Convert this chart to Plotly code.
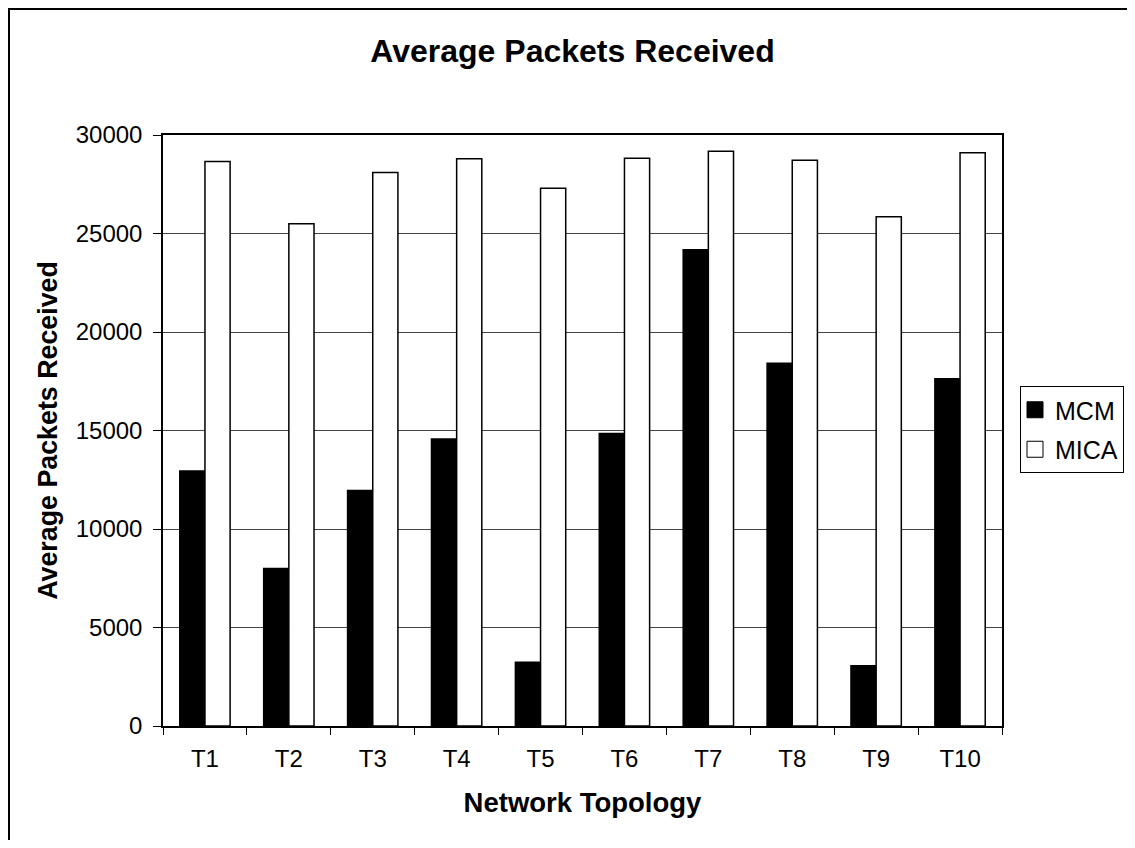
import plotly.graph_objects as go

categories = ["T1", "T2", "T3", "T4", "T5", "T6", "T7", "T8", "T9", "T10"]
mcm_values = [12950, 8000, 11950, 14570, 3230, 14850, 24180, 18420, 3060, 17630]
mica_values = [28650, 25500, 28100, 28800, 27300, 28820, 29180, 28720, 25850, 29100]
y_ticks = [0, 5000, 10000, 15000, 20000, 25000, 30000]

# the page body has an 8px margin on every side; figure coordinates = page coordinates - 8
OFF = 8
W, H = 1135 - 2 * OFF, 848 - 2 * OFF
L, T = 163 - OFF, 135 - OFF
PLOT_RIGHT, PLOT_BOTTOM = 1002 - OFF, 726 - OFF
R, B = W - PLOT_RIGHT, H - PLOT_BOTTOM
PW, PH = W - L - R, H - T - B

def px_x(x):
    return (x - L) / PW

def px_y(y):
    return (H - B - y) / PH

FONT = "Arial, Liberation Sans, sans-serif"

fig = go.Figure()
fig.add_trace(go.Bar(
    name="MCM", x=categories, y=mcm_values, showlegend=False,
    marker=dict(color="black", line=dict(color="black", width=1.5)),
))
fig.add_trace(go.Bar(
    name="MICA", x=categories, y=mica_values, showlegend=False,
    marker=dict(color="white", line=dict(color="black", width=1.5)),
))
# legend entries (square swatches like the original legend)
fig.add_trace(go.Scatter(
    name="MCM", x=[None], y=[None], mode="markers", legendgroup="a",
    marker=dict(symbol="square", size=19, color="black", line=dict(color="black", width=1)),
))
fig.add_trace(go.Scatter(
    name="MICA", x=[None], y=[None], mode="markers", legendgroup="b",
    marker=dict(symbol="square", size=19, color="white", line=dict(color="black", width=1)),
))

fig.update_layout(
    width=W, height=H,
    margin=dict(l=L, r=R, t=T, b=B, autoexpand=False),
    paper_bgcolor="white", plot_bgcolor="white",
    font=dict(family=FONT, size=24, color="black"),
    barmode="group", bargap=0.40, bargroupgap=0.0,
    title=dict(text="<b>Average Packets Received</b>", font=dict(size=32, family=FONT, color="black"),
               x=(572.5 - OFF) / W, xanchor="center", xref="container",
               y=1 - (51 - OFF) / H, yanchor="middle", yref="container"),
    legend=dict(
        x=px_x(1020 - OFF), xanchor="left", y=px_y(386 - OFF), yanchor="top",
        bordercolor="black", borderwidth=1, bgcolor="white",
        font=dict(size=25, family=FONT, color="black"),
        tracegroupgap=4, traceorder="grouped", itemsizing="trace",
        indentation=-6,
    ),
    xaxis=dict(
        title=dict(text="<b>Network Topology</b>", font=dict(size=27.5, family=FONT), standoff=22),
        showline=True, linecolor="black", linewidth=1.5, mirror=True,
        ticks="outside", tickson="boundaries", ticklen=7, tickcolor="black",
        ticklabelstandoff=10,
        showgrid=False,
    ),
    yaxis=dict(
        title=dict(text="<b>Average Packets Received</b>", font=dict(size=26.8, family=FONT), standoff=10),
        range=[0, 30000], tickvals=y_ticks, ticktext=[str(v) for v in y_ticks],
        showline=True, linecolor="black", linewidth=1.5, mirror=True,
        ticks="outside", ticklen=8, tickcolor="black", ticklabelstandoff=6,
        showgrid=True, gridcolor="#444444", gridwidth=1,
        zeroline=False,
    ),
    shapes=[
        dict(type="line", xref="paper", yref="paper", x0=px_x(0), x1=px_x(W + 5), y0=px_y(1), y1=px_y(1),
             line=dict(color="black", width=2)),
        dict(type="line", xref="paper", yref="paper", x0=px_x(1), x1=px_x(1), y0=px_y(0), y1=px_y(H + 5),
             line=dict(color="black", width=2)),
    ],
)

fig.write_html("out.html")
